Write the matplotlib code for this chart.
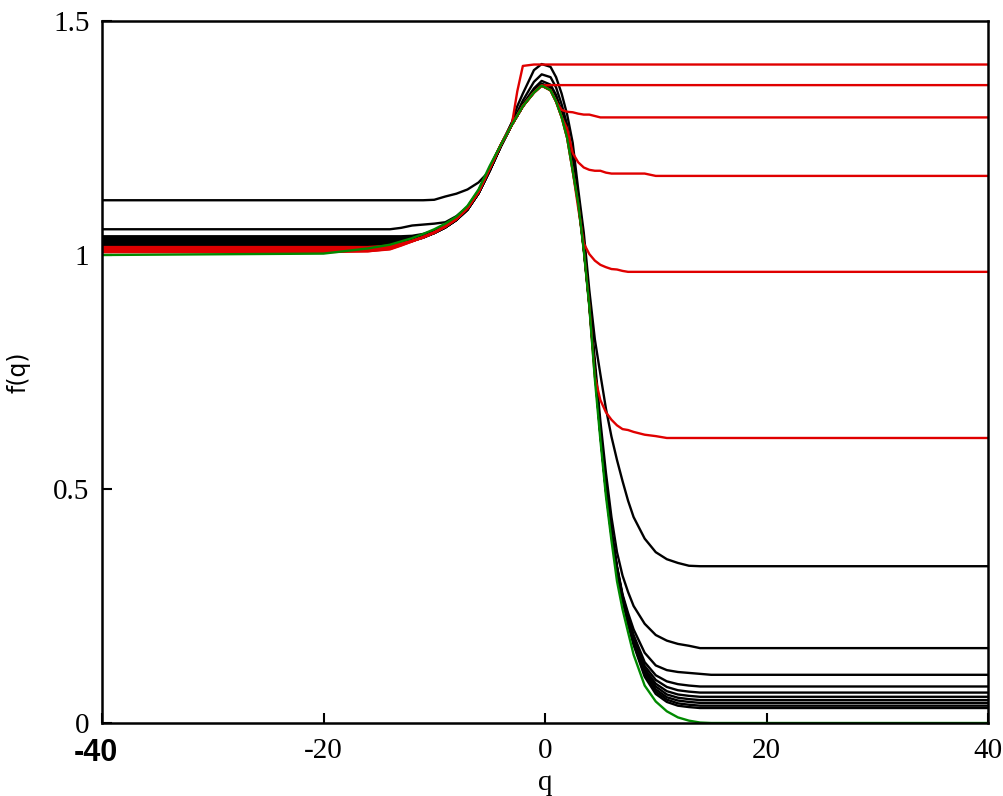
import matplotlib
matplotlib.use("Agg")
import matplotlib.pyplot as plt
import matplotlib.transforms as mtransforms

plt.rcParams["axes.unicode_minus"] = False

# common q grid shared by every curve
q = [-40, -20, -16, -14, -13, -12, -11, -10, -9, -8,
     -7, -6, -5, -4, -3, -2.5, -2, -1, -0.3, 0.5,
     1, 1.5, 2, 2.5, 3, 3.5, 4, 4.5, 5, 5.5,
     6, 6.5, 7, 7.5, 8, 9, 10, 11, 12, 13,
     14, 15, 40]

green = [1.000, 1.003, 1.014, 1.022, 1.029, 1.036, 1.045, 1.055, 1.067, 1.082,
         1.105, 1.140, 1.190, 1.235, 1.278, 1.298, 1.318, 1.347, 1.362, 1.352,
         1.328, 1.295, 1.250, 1.180, 1.110, 1.010, 0.890, 0.735, 0.605, 0.485,
         0.390, 0.303, 0.243, 0.194, 0.146, 0.080, 0.046, 0.025, 0.012, 0.005,
         0.001, 0.000, 0.000]

red_1 = [1.017, 1.017, 1.017, 1.020, 1.024, 1.030, 1.038, 1.048, 1.061, 1.077,
         1.100, 1.135, 1.185, 1.235, 1.278, 1.350, 1.404, 1.407, 1.407, 1.407,
         1.407, 1.407, 1.407, 1.407, 1.407, 1.407, 1.407, 1.407, 1.407, 1.407,
         1.407, 1.407, 1.407, 1.407, 1.407, 1.407, 1.407, 1.407, 1.407, 1.407,
         1.407, 1.407, 1.407]
red_2 = [1.015, 1.015, 1.015, 1.019, 1.024, 1.030, 1.038, 1.048, 1.061, 1.077,
         1.100, 1.135, 1.185, 1.235, 1.278, 1.298, 1.318, 1.347, 1.362, 1.363,
         1.363, 1.363, 1.363, 1.363, 1.363, 1.363, 1.363, 1.363, 1.363, 1.363,
         1.363, 1.363, 1.363, 1.363, 1.363, 1.363, 1.363, 1.363, 1.363, 1.363,
         1.363, 1.363, 1.363]
red_3 = [1.012, 1.012, 1.012, 1.017, 1.023, 1.030, 1.038, 1.048, 1.061, 1.077,
         1.100, 1.135, 1.185, 1.235, 1.278, 1.298, 1.318, 1.347, 1.362, 1.352,
         1.328, 1.310, 1.306, 1.305, 1.302, 1.300, 1.300, 1.297, 1.294, 1.294,
         1.294, 1.294, 1.294, 1.294, 1.294, 1.294, 1.294, 1.294, 1.294, 1.294,
         1.294, 1.294, 1.294]
red_4 = [1.010, 1.010, 1.010, 1.015, 1.022, 1.030, 1.038, 1.048, 1.061, 1.077,
         1.100, 1.135, 1.185, 1.235, 1.278, 1.298, 1.318, 1.347, 1.362, 1.352,
         1.328, 1.295, 1.270, 1.218, 1.198, 1.187, 1.182, 1.180, 1.180, 1.176,
         1.174, 1.174, 1.174, 1.174, 1.174, 1.174, 1.169, 1.169, 1.169, 1.169,
         1.169, 1.169, 1.169]
red_5 = [1.008, 1.008, 1.008, 1.013, 1.021, 1.029, 1.038, 1.048, 1.061, 1.077,
         1.100, 1.135, 1.185, 1.235, 1.278, 1.298, 1.318, 1.347, 1.362, 1.352,
         1.328, 1.295, 1.250, 1.180, 1.100, 1.025, 1.002, 0.988, 0.979, 0.974,
         0.970, 0.969, 0.966, 0.964, 0.964, 0.964, 0.964, 0.964, 0.964, 0.964,
         0.964, 0.964, 0.964]
red_6 = [1.006, 1.006, 1.008, 1.012, 1.020, 1.029, 1.038, 1.048, 1.061, 1.077,
         1.100, 1.135, 1.185, 1.235, 1.278, 1.298, 1.318, 1.347, 1.362, 1.352,
         1.328, 1.295, 1.250, 1.180, 1.110, 1.012, 0.892, 0.740, 0.690, 0.664,
         0.648, 0.636, 0.628, 0.626, 0.622, 0.616, 0.613, 0.609, 0.609, 0.609,
         0.609, 0.609, 0.609]

black_1 = [1.117, 1.117, 1.117, 1.117, 1.117, 1.117, 1.117, 1.118, 1.125, 1.131,
           1.140, 1.155, 1.180, 1.232, 1.283, 1.318, 1.345, 1.395, 1.408, 1.402,
           1.380, 1.345, 1.300, 1.240, 1.140, 1.048, 0.925, 0.820, 0.745, 0.672,
           0.612, 0.562, 0.517, 0.475, 0.440, 0.394, 0.365, 0.350, 0.342, 0.336,
           0.335, 0.335, 0.335]
black_2 = [1.055, 1.055, 1.055, 1.055, 1.058, 1.063, 1.065, 1.067, 1.070, 1.083,
           1.103, 1.138, 1.186, 1.235, 1.282, 1.305, 1.330, 1.370, 1.386, 1.380,
           1.358, 1.322, 1.278, 1.208, 1.125, 1.025, 0.905, 0.775, 0.645, 0.535,
           0.440, 0.365, 0.315, 0.280, 0.250, 0.212, 0.188, 0.176, 0.169, 0.165,
           0.160, 0.160, 0.160]
black_3 = [1.040, 1.040, 1.040, 1.040, 1.040, 1.041, 1.045, 1.052, 1.062, 1.078,
           1.100, 1.135, 1.183, 1.233, 1.280, 1.300, 1.322, 1.356, 1.372, 1.364,
           1.342, 1.306, 1.262, 1.195, 1.118, 1.018, 0.898, 0.758, 0.625, 0.505,
           0.410, 0.335, 0.275, 0.235, 0.200, 0.150, 0.123, 0.113, 0.109, 0.107,
           0.105, 0.103, 0.103]
black_4 = [1.036, 1.036, 1.036, 1.036, 1.036, 1.037, 1.040, 1.048, 1.059, 1.075,
           1.097, 1.132, 1.180, 1.232, 1.278, 1.298, 1.318, 1.350, 1.366, 1.358,
           1.338, 1.304, 1.260, 1.192, 1.117, 1.017, 0.899, 0.757, 0.622, 0.502,
           0.408, 0.333, 0.272, 0.228, 0.188, 0.130, 0.102, 0.089, 0.083, 0.080,
           0.078, 0.078, 0.078]
black_5 = [1.032, 1.032, 1.032, 1.032, 1.032, 1.034, 1.039, 1.047, 1.059, 1.075,
           1.097, 1.132, 1.180, 1.232, 1.278, 1.298, 1.318, 1.350, 1.365, 1.357,
           1.337, 1.303, 1.259, 1.191, 1.116, 1.016, 0.898, 0.756, 0.621, 0.501,
           0.406, 0.331, 0.270, 0.224, 0.183, 0.122, 0.092, 0.077, 0.070, 0.067,
           0.065, 0.065, 0.065]
black_6 = [1.029, 1.029, 1.029, 1.029, 1.029, 1.032, 1.038, 1.047, 1.059, 1.075,
           1.097, 1.132, 1.180, 1.232, 1.278, 1.298, 1.318, 1.350, 1.364, 1.356,
           1.336, 1.302, 1.258, 1.190, 1.116, 1.016, 0.898, 0.755, 0.620, 0.500,
           0.405, 0.330, 0.269, 0.221, 0.179, 0.116, 0.084, 0.068, 0.061, 0.058,
           0.056, 0.056, 0.056]
black_7 = [1.026, 1.026, 1.026, 1.026, 1.027, 1.031, 1.038, 1.047, 1.059, 1.075,
           1.097, 1.132, 1.180, 1.232, 1.278, 1.298, 1.318, 1.350, 1.364, 1.356,
           1.336, 1.302, 1.258, 1.190, 1.116, 1.016, 0.897, 0.754, 0.619, 0.499,
           0.404, 0.329, 0.268, 0.218, 0.176, 0.111, 0.078, 0.061, 0.054, 0.051,
           0.049, 0.049, 0.049]
black_8 = [1.023, 1.023, 1.023, 1.023, 1.026, 1.031, 1.038, 1.047, 1.059, 1.075,
           1.097, 1.132, 1.180, 1.232, 1.278, 1.298, 1.318, 1.350, 1.363, 1.355,
           1.335, 1.301, 1.257, 1.189, 1.115, 1.015, 0.896, 0.753, 0.618, 0.498,
           0.403, 0.328, 0.267, 0.216, 0.173, 0.107, 0.072, 0.055, 0.048, 0.045,
           0.043, 0.043, 0.043]
black_9 = [1.021, 1.021, 1.021, 1.022, 1.025, 1.030, 1.037, 1.047, 1.059, 1.075,
           1.097, 1.132, 1.180, 1.232, 1.278, 1.298, 1.318, 1.350, 1.363, 1.355,
           1.335, 1.301, 1.257, 1.189, 1.115, 1.015, 0.896, 0.752, 0.617, 0.497,
           0.402, 0.327, 0.266, 0.214, 0.170, 0.103, 0.067, 0.050, 0.042, 0.039,
           0.037, 0.037, 0.037]
black_10 = [1.019, 1.019, 1.019, 1.021, 1.024, 1.030, 1.037, 1.047, 1.059, 1.075,
            1.097, 1.132, 1.180, 1.232, 1.278, 1.298, 1.318, 1.350, 1.362, 1.354,
            1.334, 1.300, 1.256, 1.188, 1.114, 1.014, 0.895, 0.751, 0.616, 0.496,
            0.401, 0.326, 0.265, 0.212, 0.167, 0.099, 0.062, 0.045, 0.037, 0.034,
            0.032, 0.032, 0.032]

black_curves = [black_1, black_2, black_3, black_4, black_5,
                black_6, black_7, black_8, black_9, black_10]
red_curves = [red_1, red_2, red_3, red_4, red_5, red_6]

x_ticks = [-40, -20, 0, 20, 40]
x_tick_labels = ["-40", "-20", "0", "20", "40"]
y_ticks = [0, 0.5, 1, 1.5]
y_tick_labels = ["0", "0.5", "1", "1.5"]

serif = "Liberation Serif"

fig = plt.figure(figsize=(10.04, 7.96), dpi=100)
ax = fig.add_axes([102 / 1004, 1 - 723 / 796, 886 / 1004, 702 / 796])

for f in black_curves:
    ax.plot(q, f, color="black", lw=1.7)
for f in red_curves:
    ax.plot(q, f, color="#e00000", lw=1.7)
ax.plot(q, green, color="#008a00", lw=1.7)

ax.set_xlim(-40, 40)
ax.set_ylim(0, 1.5)
ax.set_xticks(x_ticks)
ax.set_xticklabels(x_tick_labels)
ax.set_yticks(y_ticks)
ax.set_yticklabels(y_tick_labels)
ax.tick_params(direction="in", length=7, width=1.5, labelsize=21)
ax.tick_params(axis="x", pad=11)
ax.tick_params(axis="y", pad=9)
for lab in ax.get_xticklabels() + ax.get_yticklabels():
    lab.set_fontfamily(serif)
# the first x label is drawn in a bold sans font in the original
first = ax.get_xticklabels()[0]
first.set_fontfamily("Liberation Sans")
first.set_fontweight("bold")
first.set_fontsize(22)
first.set_transform(first.get_transform() +
                    mtransforms.ScaledTranslation(-6 / 100, 0, fig.dpi_scale_trans))

for s in ax.spines.values():
    s.set_linewidth(1.8)

ax.set_xlabel("q", fontsize=21, fontfamily=serif, labelpad=1)
ax.set_ylabel("f(q)", fontsize=17, fontfamily="DejaVu Sans", labelpad=16)

fig.savefig("out.png", dpi=100)
